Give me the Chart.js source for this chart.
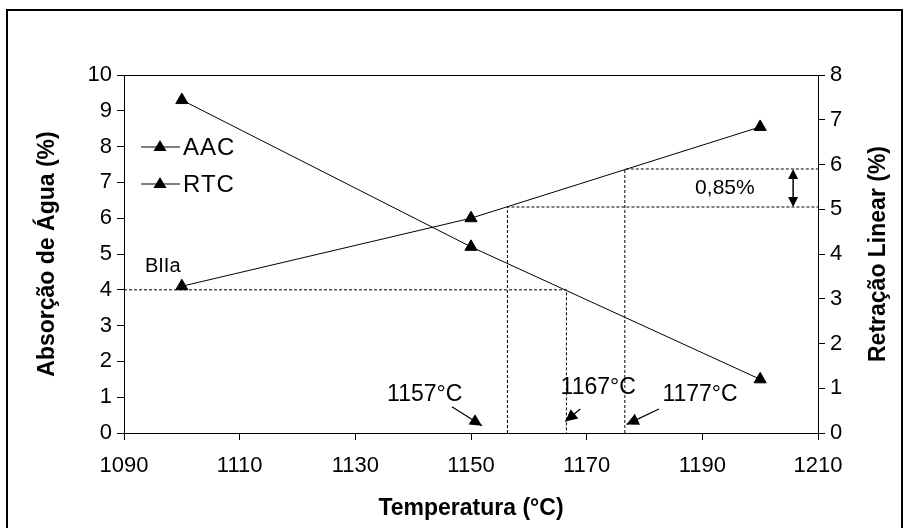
<!DOCTYPE html>
<html>
<head>
<meta charset="utf-8">
<script src="https://cdn.jsdelivr.net/npm/chart.js@4.4.1/dist/chart.umd.min.js"></script>
<style>
  html, body { margin: 0; padding: 0; background: #fff; }
  #wrap { width: 904px; height: 528px; position: relative; }
</style>
</head>
<body>
<div id="wrap"><canvas id="chart" width="904" height="528"></canvas></div>
<script>
// temperatures (°C)
const temps = [1100, 1150, 1200];
// AAC - absorção de água (%), left axis
const aacValues = [9.3, 5.2, 1.5];
// RTC - retração linear (%), right axis
const rtcValues = [3.28, 4.8, 6.84];

// reading lines for BIIa
const biiaAbs = 4;
const tAbs = 1166.5;          // where AAC crosses 4 %
const tLow = 1156.3;          // 1157 °C
const tHigh = 1176.6;         // 1177 °C
const rtcLow = 5.05;
const rtcHigh = 5.9;
const arrowX = 1205.7;

const tempLabels = ['1157°C', '1167°C', '1177°C'];
const tempLabelPos = [[1142, 1.06], [1172, 1.26], [1189.6, 1.06]];
// small pointer arrows [x0, y0, x1, y1] in data units (left axis)
const pointerArrows = [
    [1146.7, 0.73, 1151.9, 0.2],
    [1168.9, 0.67, 1166.3, 0.32],
    [1182.5, 0.67, 1176.9, 0.24]
];

const FAM = 'Liberation Sans, Arial, sans-serif';
const tickFont = { family: FAM, size: 22 };
const titleFont = { family: FAM, size: 23, weight: 'bold' };

function arrowHead(ctx, x0, y0, x1, y1, len, w) {
    const a = Math.atan2(y1 - y0, x1 - x0);
    ctx.beginPath();
    ctx.moveTo(x1, y1);
    ctx.lineTo(x1 - len * Math.cos(a) + w * Math.sin(a), y1 - len * Math.sin(a) - w * Math.cos(a));
    ctx.lineTo(x1 - len * Math.cos(a) - w * Math.sin(a), y1 - len * Math.sin(a) + w * Math.cos(a));
    ctx.closePath();
    ctx.fill();
}

const extras = {
    id: 'extras',
    afterDraw(chart) {
        const ctx = chart.ctx;
        const x = chart.scales.x, y = chart.scales.y, y2 = chart.scales.y2;
        const area = chart.chartArea;
        ctx.save();
        ctx.strokeStyle = '#000';
        ctx.fillStyle = '#000';

        // outer frame
        ctx.lineWidth = 2;
        ctx.strokeRect(7, 10, 895, 540);

        // top border of plot
        ctx.lineWidth = 1;
        ctx.beginPath();
        ctx.moveTo(area.left - 7, area.top + 0.5);
        ctx.lineTo(area.right + 7, area.top + 0.5);
        ctx.stroke();

        // dashed reading lines
        ctx.setLineDash([3, 2]);
        ctx.beginPath();
        ctx.moveTo(x.getPixelForValue(1090), y.getPixelForValue(biiaAbs));
        ctx.lineTo(x.getPixelForValue(tAbs), y.getPixelForValue(biiaAbs));
        ctx.lineTo(x.getPixelForValue(tAbs), y.getPixelForValue(0));
        ctx.moveTo(x.getPixelForValue(tLow), y.getPixelForValue(0));
        ctx.lineTo(x.getPixelForValue(tLow), y2.getPixelForValue(rtcLow));
        ctx.lineTo(x.getPixelForValue(1210), y2.getPixelForValue(rtcLow));
        ctx.moveTo(x.getPixelForValue(tHigh), y.getPixelForValue(0));
        ctx.lineTo(x.getPixelForValue(tHigh), y2.getPixelForValue(rtcHigh));
        ctx.lineTo(x.getPixelForValue(1210), y2.getPixelForValue(rtcHigh));
        ctx.stroke();
        ctx.setLineDash([]);

        // double arrow 0,85 %
        const ax = x.getPixelForValue(arrowX);
        const ay0 = y2.getPixelForValue(rtcHigh), ay1 = y2.getPixelForValue(rtcLow);
        ctx.lineWidth = 1.5;
        ctx.beginPath();
        ctx.moveTo(ax, ay0 + 6);
        ctx.lineTo(ax, ay1 - 6);
        ctx.stroke();
        arrowHead(ctx, ax, ay1, ax, ay0, 10, 5);
        arrowHead(ctx, ax, ay0, ax, ay1, 10, 5);

        // pointer arrows
        ctx.lineWidth = 1.2;
        pointerArrows.forEach(p => {
            const px0 = x.getPixelForValue(p[0]), py0 = y.getPixelForValue(p[1]);
            const px1 = x.getPixelForValue(p[2]), py1 = y.getPixelForValue(p[3]);
            ctx.beginPath();
            ctx.moveTo(px0, py0);
            ctx.lineTo(px1, py1);
            ctx.stroke();
            arrowHead(ctx, px0, py0, px1, py1, 12, 6);
        });

        // texts
        ctx.textAlign = 'center';
        ctx.textBaseline = 'middle';
        ctx.font = '23px ' + FAM;
        tempLabels.forEach((t, i) => {
            ctx.fillText(t, x.getPixelForValue(tempLabelPos[i][0]), y.getPixelForValue(tempLabelPos[i][1]));
        });
        ctx.font = '21px ' + FAM;
        ctx.fillText('0,85%', x.getPixelForValue(1193.9), y2.getPixelForValue(5.47));
        ctx.font = '20px ' + FAM;
        ctx.fillText('BIIa', x.getPixelForValue(1096.7), y.getPixelForValue(4.66));

        // legend
        const leg = [['AAC', 147], ['RTC', 184]];
        ctx.textAlign = 'left';
        ctx.font = '24px ' + FAM;
        ctx.letterSpacing = '1px';
        leg.forEach(l => {
            ctx.lineWidth = 1;
            ctx.beginPath();
            ctx.moveTo(141, l[1]);
            ctx.lineTo(180, l[1]);
            ctx.stroke();
            ctx.beginPath();
            ctx.moveTo(160, l[1] - 7);
            ctx.lineTo(166.5, l[1] + 4);
            ctx.lineTo(153.5, l[1] + 4);
            ctx.closePath();
            ctx.fill();
            ctx.fillText(l[0], 183, l[1] + 1);
        });
        ctx.letterSpacing = '0px';

        // right axis title, reading bottom to top
        ctx.save();
        ctx.translate(879, (area.top + area.bottom) / 2);
        ctx.rotate(-Math.PI / 2);
        ctx.textAlign = 'center';
        ctx.font = 'bold 23px ' + FAM;
        ctx.fillText('Retração Linear (%)', 0, 0);
        ctx.restore();

        ctx.restore();
    }
};

const axisCommon = {
    type: 'linear',
    border: { display: true, color: '#000', width: 1 },
    grid: { display: true, drawOnChartArea: false, drawTicks: true, tickLength: 7, color: '#000' },
    ticks: { stepSize: 1, font: tickFont, color: '#000', padding: 5, callback: v => String(v) }
};

new Chart(document.getElementById('chart'), {
    type: 'line',
    data: {
        labels: temps,
        datasets: [{
            label: 'AAC',
            data: temps.map((t, i) => ({ x: t, y: aacValues[i] })),
            yAxisID: 'y',
            borderColor: '#000',
            backgroundColor: '#000',
            borderWidth: 1,
            pointStyle: 'triangle',
            pointRadius: 7,
            pointHoverRadius: 7,
            tension: 0
        }, {
            label: 'RTC',
            data: temps.map((t, i) => ({ x: t, y: rtcValues[i] })),
            yAxisID: 'y2',
            borderColor: '#000',
            backgroundColor: '#000',
            borderWidth: 1,
            pointStyle: 'triangle',
            pointRadius: 7,
            pointHoverRadius: 7,
            tension: 0
        }]
    },
    options: {
        responsive: false,
        animation: false,
        layout: { padding: { top: 75, left: 0, right: 0, bottom: 0 } },
        plugins: { legend: { display: false }, tooltip: { enabled: false } },
        scales: {
            x: {
                ...axisCommon,
                min: 1090, max: 1210,
                ticks: { ...axisCommon.ticks, stepSize: 20, padding: 13 },
                title: { display: true, text: 'Temperatura (°C)', font: titleFont, color: '#000', padding: { top: 0, bottom: 6 } },
                afterFit(s) { s.height = 95; }
            },
            y: {
                ...axisCommon,
                position: 'left',
                min: 0, max: 10,
                title: { display: true, text: 'Absorção de Água (%)', font: titleFont, color: '#000', padding: { top: 34, bottom: 0 } },
                afterFit(s) { s.width = 124; }
            },
            y2: {
                ...axisCommon,
                position: 'right',
                min: 0, max: 8,
                afterFit(s) { s.width = 86; }
            }
        }
    },
    plugins: [extras]
});
</script>
</body>
</html>
